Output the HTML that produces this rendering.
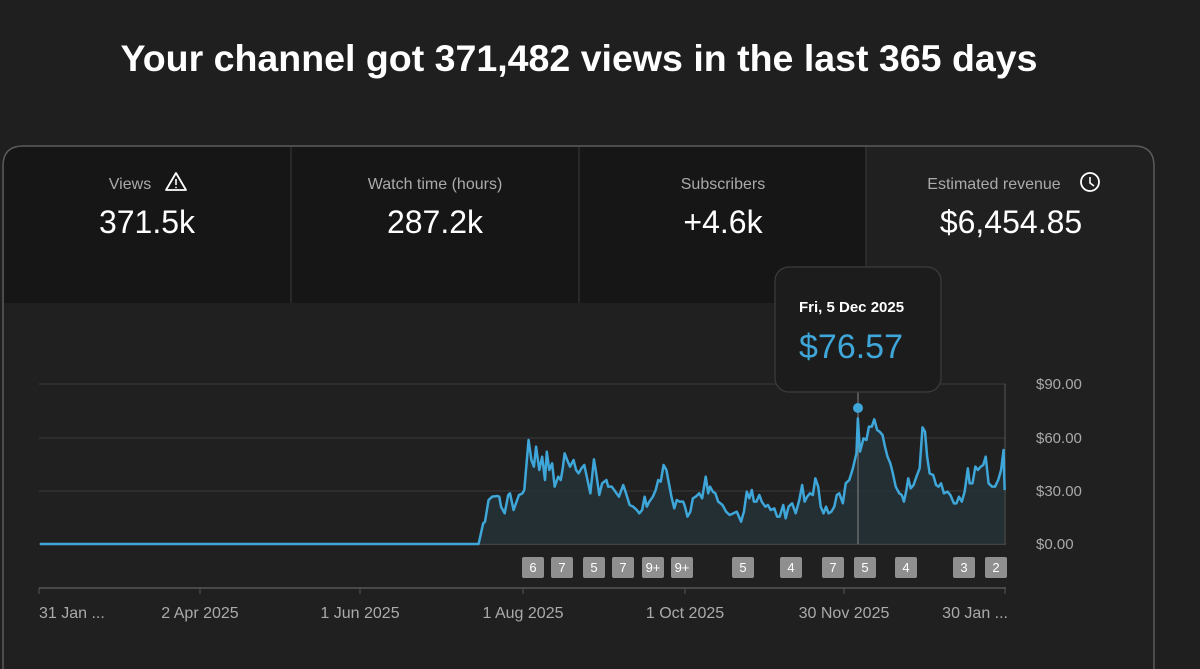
<!DOCTYPE html>
<html><head><meta charset="utf-8"><style>
html,body{margin:0;padding:0;background:#1f1f1f;width:1200px;height:669px;overflow:hidden}
svg{display:block;font-family:"Liberation Sans",sans-serif}
</style></head><body>
<svg width="1200" height="669" viewBox="0 0 1200 669" xmlns="http://www.w3.org/2000/svg">
<rect width="1200" height="669" fill="#1f1f1f"/>
<text x="579" y="71" text-anchor="middle" font-size="37" font-weight="bold" fill="#fff" textLength="917" lengthAdjust="spacingAndGlyphs">Your channel got 371,482 views in the last 365 days</text>
<!-- panel -->
<path d="M3,669 V166 Q3,146 23,146 H1134 Q1154,146 1154,166 V669" fill="#202020" stroke="#5a5a5a" stroke-width="1.5"/>
<path d="M4,303 V166 Q4,147 23,147 H866 V303 Z" fill="#161616"/>
<line x1="291" y1="147" x2="291" y2="303" stroke="#3a3a3a"/>
<line x1="579" y1="147" x2="579" y2="303" stroke="#3a3a3a"/>
<line x1="866" y1="147" x2="866" y2="303" stroke="#3a3a3a"/>
<g font-size="16" fill="#aaa" text-anchor="middle">
<text x="130" y="189">Views</text>
<text x="435" y="189">Watch time (hours)</text>
<text x="723" y="189">Subscribers</text>
<text x="994" y="189">Estimated revenue</text>
</g>
<path d="M176,173 L186,190 H166 Z" fill="none" stroke="#fff" stroke-width="1.8" stroke-linejoin="round"/>
<line x1="176" y1="179" x2="176" y2="185" stroke="#fff" stroke-width="1.6"/>
<circle cx="176" cy="187.5" r="0.9" fill="#fff"/>
<circle cx="1090" cy="182" r="9" fill="none" stroke="#fff" stroke-width="1.8"/>
<path d="M1090,177 V183 L1094,186" fill="none" stroke="#fff" stroke-width="1.6"/>
<g font-size="32" fill="#fff" text-anchor="middle">
<text x="147" y="233">371.5k</text>
<text x="435" y="233">287.2k</text>
<text x="723" y="233">+4.6k</text>
<text x="1011" y="233">$6,454.85</text>
</g>
<!-- grid -->
<g stroke="#3a3a3a" stroke-width="1">
<line x1="39" y1="384" x2="1006" y2="384"/>
<line x1="39" y1="438" x2="1006" y2="438"/>
<line x1="39" y1="491" x2="1006" y2="491"/>
<line x1="39" y1="544" x2="1006" y2="544" stroke="#666"/>
<line x1="1005" y1="384" x2="1005" y2="544" stroke="#555"/>
</g>
<line x1="39" y1="588" x2="1006" y2="588" stroke="#555" stroke-width="1.5"/>
<g stroke="#555"><line x1="39" y1="588" x2="39" y2="594"/><line x1="200" y1="588" x2="200" y2="594"/><line x1="360" y1="588" x2="360" y2="594"/><line x1="523" y1="588" x2="523" y2="594"/><line x1="685" y1="588" x2="685" y2="594"/><line x1="844" y1="588" x2="844" y2="594"/><line x1="1005" y1="588" x2="1005" y2="594"/></g>
<g font-size="16" fill="#aaa">
<text x="39" y="618">31 Jan ...</text>
<text x="200" y="618" text-anchor="middle">2 Apr 2025</text>
<text x="360" y="618" text-anchor="middle">1 Jun 2025</text>
<text x="523" y="618" text-anchor="middle">1 Aug 2025</text>
<text x="685" y="618" text-anchor="middle">1 Oct 2025</text>
<text x="844" y="618" text-anchor="middle">30 Nov 2025</text>
<text x="1008" y="618" text-anchor="end">30 Jan ...</text>
</g>
<g font-size="15" fill="#aaa">
<text x="1036" y="389">$90.00</text>
<text x="1036" y="443">$60.00</text>
<text x="1036" y="496">$30.00</text>
<text x="1036" y="549">$0.00</text>
</g>
<!-- series -->
<g transform="translate(460,370) scale(0.357143,0.333333)">
<path fill="#263238" fill-opacity="0.85" d="M52,522 L65,460 70,455 80,390 90,380 105,378 110,380 115,410 125,430 135,375 140,370 150,420 165,375 175,370 180,360 192,210 200,270 207,290 213,230 222,300 230,260 238,330 243,245 250,300 258,280 265,350 275,320 282,330 287,300 293,250 300,270 308,290 318,270 325,300 332,310 340,295 348,285 355,320 365,370 375,268 380,300 390,375 398,340 410,330 415,350 425,350 435,365 445,380 457,345 465,370 475,405 485,410 495,420 502,430 510,420 517,380 523,410 530,395 540,380 548,360 555,330 562,335 570,285 578,300 585,340 592,380 600,415 607,390 615,395 625,395 630,410 637,440 645,425 652,385 660,380 670,370 678,385 688,320 695,370 700,350 708,365 715,370 723,395 735,405 745,425 755,435 765,430 775,425 787,455 795,425 803,365 810,385 817,360 823,395 830,395 838,375 845,395 855,410 862,405 870,420 880,415 888,440 895,440 905,405 912,445 920,410 930,400 940,430 950,390 958,345 965,395 972,380 980,370 988,375 995,325 1003,350 1010,410 1018,430 1025,410 1032,430 1040,425 1048,410 1055,375 1062,370 1072,400 1080,340 1090,330 1100,295 1110,250 1114,145 1120,245 1130,205 1138,210 1145,170 1153,170 1160,148 1168,180 1175,185 1183,195 1190,230 1197,260 1205,280 1212,310 1220,350 1230,370 1237,375 1243,395 1250,360 1255,325 1262,355 1270,345 1278,320 1287,295 1295,172 1302,185 1308,260 1315,310 1325,315 1333,345 1340,350 1347,340 1355,370 1365,365 1373,375 1383,400 1390,400 1397,380 1405,395 1413,365 1422,295 1427,340 1435,340 1443,290 1450,300 1458,290 1465,285 1472,260 1480,340 1490,350 1498,350 1507,330 1515,300 1522,240 1525,360 L1525,522 Z"/>
</g>
<line x1="858" y1="392" x2="858" y2="544" stroke="#888" stroke-width="1"/>
<g transform="translate(460,370) scale(0.357143,0.333333)">
<polyline fill="none" stroke="#3ea6d8" stroke-width="2.5" vector-effect="non-scaling-stroke" stroke-linejoin="round" points="-1176,522 52,522 65,460 70,455 80,390 90,380 105,378 110,380 115,410 125,430 135,375 140,370 150,420 165,375 175,370 180,360 192,210 200,270 207,290 213,230 222,300 230,260 238,330 243,245 250,300 258,280 265,350 275,320 282,330 287,300 293,250 300,270 308,290 318,270 325,300 332,310 340,295 348,285 355,320 365,370 375,268 380,300 390,375 398,340 410,330 415,350 425,350 435,365 445,380 457,345 465,370 475,405 485,410 495,420 502,430 510,420 517,380 523,410 530,395 540,380 548,360 555,330 562,335 570,285 578,300 585,340 592,380 600,415 607,390 615,395 625,395 630,410 637,440 645,425 652,385 660,380 670,370 678,385 688,320 695,370 700,350 708,365 715,370 723,395 735,405 745,425 755,435 765,430 775,425 787,455 795,425 803,365 810,385 817,360 823,395 830,395 838,375 845,395 855,410 862,405 870,420 880,415 888,440 895,440 905,405 912,445 920,410 930,400 940,430 950,390 958,345 965,395 972,380 980,370 988,375 995,325 1003,350 1010,410 1018,430 1025,410 1032,430 1040,425 1048,410 1055,375 1062,370 1072,400 1080,340 1090,330 1100,295 1110,250 1114,145 1120,245 1130,205 1138,210 1145,170 1153,170 1160,148 1168,180 1175,185 1183,195 1190,230 1197,260 1205,280 1212,310 1220,350 1230,370 1237,375 1243,395 1250,360 1255,325 1262,355 1270,345 1278,320 1287,295 1295,172 1302,185 1308,260 1315,310 1325,315 1333,345 1340,350 1347,340 1355,370 1365,365 1373,375 1383,400 1390,400 1397,380 1405,395 1413,365 1422,295 1427,340 1435,340 1443,290 1450,300 1458,290 1465,285 1472,260 1480,340 1490,350 1498,350 1507,330 1515,300 1522,240 1525,360"/>
</g>
<circle cx="858" cy="408" r="5" fill="#3ea6d8"/>
<!-- tooltip -->
<rect x="775" y="267" width="166" height="125" rx="14" fill="#1c1c1c" stroke="#3c3c3c" stroke-width="1.2"/>
<text x="799" y="312" font-size="15" font-weight="bold" fill="#fff">Fri, 5 Dec 2025</text>
<text x="799" y="358" font-size="34" fill="#3ea6d8">$76.57</text>
<!-- badges -->
<g font-size="13" fill="#fff" text-anchor="middle">
<rect x="522" y="557" width="22" height="21" rx="2" fill="#8f8f8f"/><text x="533" y="572">6</text>
<rect x="551" y="557" width="22" height="21" rx="2" fill="#8f8f8f"/><text x="562" y="572">7</text>
<rect x="583" y="557" width="22" height="21" rx="2" fill="#8f8f8f"/><text x="594" y="572">5</text>
<rect x="612" y="557" width="22" height="21" rx="2" fill="#8f8f8f"/><text x="623" y="572">7</text>
<rect x="642" y="557" width="22" height="21" rx="2" fill="#8f8f8f"/><text x="653" y="572">9+</text>
<rect x="671" y="557" width="22" height="21" rx="2" fill="#8f8f8f"/><text x="682" y="572">9+</text>
<rect x="732" y="557" width="22" height="21" rx="2" fill="#8f8f8f"/><text x="743" y="572">5</text>
<rect x="780" y="557" width="22" height="21" rx="2" fill="#8f8f8f"/><text x="791" y="572">4</text>
<rect x="822" y="557" width="22" height="21" rx="2" fill="#8f8f8f"/><text x="833" y="572">7</text>
<rect x="854" y="557" width="22" height="21" rx="2" fill="#8f8f8f"/><text x="865" y="572">5</text>
<rect x="895" y="557" width="22" height="21" rx="2" fill="#8f8f8f"/><text x="906" y="572">4</text>
<rect x="953" y="557" width="22" height="21" rx="2" fill="#8f8f8f"/><text x="964" y="572">3</text>
<rect x="985" y="557" width="22" height="21" rx="2" fill="#8f8f8f"/><text x="996" y="572">2</text>
</g>
</svg>
</body></html>
